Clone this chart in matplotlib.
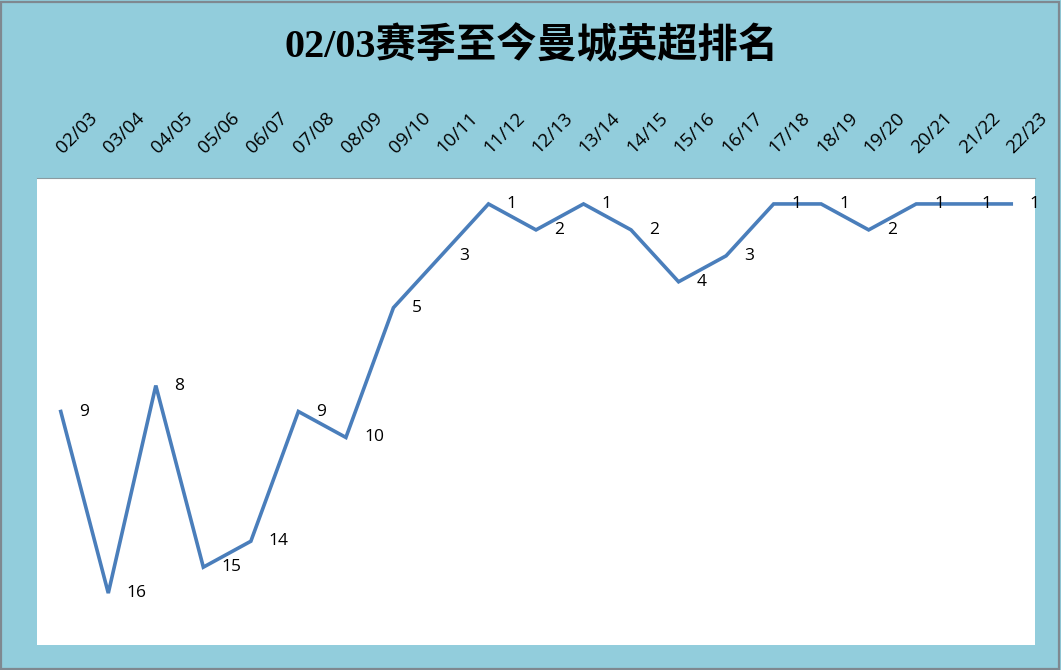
import matplotlib
matplotlib.use("Agg")
import matplotlib.pyplot as plt
from matplotlib.patches import Rectangle
from matplotlib.transforms import blended_transform_factory

seasons = ["02/03", "03/04", "04/05", "05/06", "06/07", "07/08", "08/09", "09/10",
           "10/11", "11/12", "12/13", "13/14", "14/15", "15/16", "16/17", "17/18",
           "18/19", "19/20", "20/21", "21/22", "22/23"]
ranks = [9, 16, 8, 15, 14, 9, 10, 5, 3, 1, 2, 1, 2, 4, 3, 1, 1, 2, 1, 1, 1]

bg = "#92CDDC"
line_col = "#4A7EBB"

fig = plt.figure(figsize=(10.61, 6.70), dpi=100)
fig.patch.set_facecolor(bg)
fig.patches.append(Rectangle((0.001, 0.002), 0.997, 0.995, transform=fig.transFigure,
                             fill=False, edgecolor="#7F8890", linewidth=1.6))

ax = fig.add_axes([37/1061, 25/670, 998/1061, 467/670])
ax.set_facecolor("white")
x = list(range(len(seasons)))
ax.plot(x, ranks, color=line_col, linewidth=2.6, solid_joinstyle="miter")
for xi, r in zip(x, ranks):
    ax.annotate(str(r), (xi, r), xytext=(13, 0), textcoords="offset points",
                ha="left", va="center", fontsize=12.5, family="Open Sans", color="black")

ax.set_xlim(-0.5, len(seasons) - 0.5)
ax.set_ylim(18, 0)
ax.set_xticks([])
ax.set_yticks([])
trans = blended_transform_factory(ax.transData, ax.transAxes)
for xi, s in zip(x, seasons):
    ax.annotate(s, (xi, 1.0), xycoords=trans, xytext=(1.5, 17), textcoords="offset points",
                rotation=45, rotation_mode="anchor", ha="left", va="baseline",
                fontsize=13.5, family="Open Sans", color="black", annotation_clip=False)
for side in ["left", "right", "bottom"]:
    ax.spines[side].set_visible(False)
ax.spines["top"].set_color("#8A9AA0")
ax.spines["top"].set_linewidth(0.8)

fig.text(531/1061, 1 - 47/670, "02/03赛季至今曼城英超排名", ha="center", va="center",
         fontsize=29, fontweight="bold", family=["Liberation Serif", "Noto Sans CJK SC"],
         color="black")

fig.savefig("out.png", dpi=100, facecolor=bg)
